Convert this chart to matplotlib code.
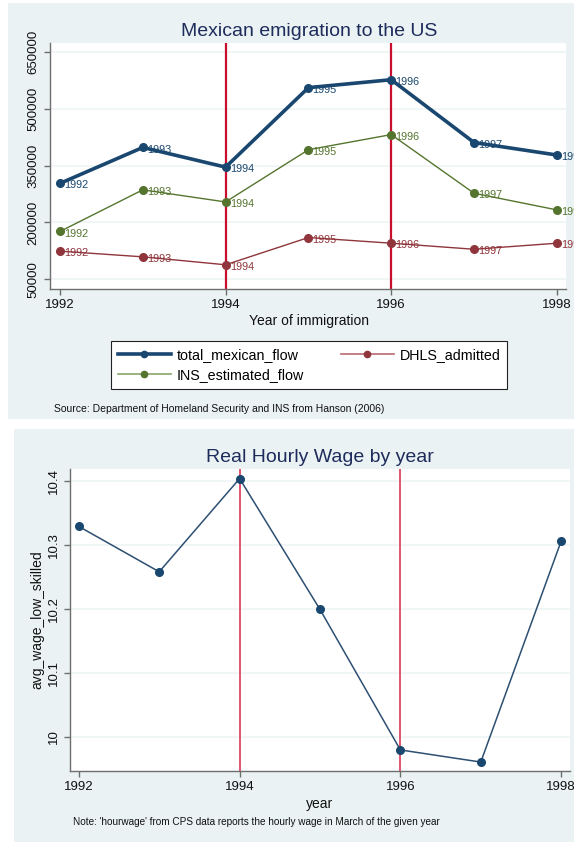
import matplotlib
matplotlib.use("Agg")
import matplotlib.pyplot as plt
from matplotlib.patches import Rectangle
from matplotlib.lines import Line2D

plt.rcParams["font.family"] = ["Liberation Sans", "DejaVu Sans"]

# ── Data ──────────────────────────────────────────────────────────────────────
years = [1992, 1993, 1994, 1995, 1996, 1997, 1998]
total_mexican_flow = [303000, 398000, 346000, 556000, 577000, 411000, 378000]
ins_estimated_flow = [176000, 286000, 254000, 392000, 432000, 277000, 233000]
dhls_admitted = [124000, 109000, 88000, 160000, 145000, 129000, 145000]

wage_years = [1992, 1993, 1994, 1995, 1996, 1997, 1998]
avg_wage_low_skilled = [10.329, 10.258, 10.404, 10.199, 9.979, 9.960, 10.306]

policy_years = [1994, 1996]
flow_ticks = [50000, 200000, 350000, 500000, 650000]
wage_ticks = [10.0, 10.1, 10.2, 10.3, 10.4]
year_ticks = [1992, 1994, 1996, 1998]

# ── Colours ───────────────────────────────────────────────────────────────────
C_NAVY = "#1a476f"
C_GREEN = "#55752f"
C_MAROON = "#90353b"
C_BG = "#eaf2f3"
C_GRID = "#edf3f4"
C_RED = "#c8102e"
C_RED2 = "#dc4867"
C_TITLE = "#1e2c5c"
C_AXIS = "#6e6e6e"

W, H = 574, 842
fig = plt.figure(figsize=(W / 100, H / 100), dpi=100)
fig.patch.set_facecolor("white")


def fx(x):
    return x / W


def fy(y):
    return 1 - y / H


def rect(x0, y0, x1, y1):
    return [fx(x0), fy(y1), (x1 - x0) / W, (y1 - y0) / H]


# graph region backgrounds
fig.patches.append(Rectangle((fx(8), fy(419)), (W - 8) / W, (419 - 3) / H,
                             transform=fig.transFigure, facecolor=C_BG,
                             edgecolor="none", zorder=0))
fig.patches.append(Rectangle((fx(14), fy(H)), (W - 14) / W, (H - 429) / H,
                             transform=fig.transFigure, facecolor=C_BG,
                             edgecolor="none", zorder=0))


def style_axes(ax):
    ax.set_zorder(2)
    for s in ("top", "right"):
        ax.spines[s].set_visible(False)
    for s in ("left", "bottom"):
        ax.spines[s].set_color(C_AXIS)
        ax.spines[s].set_linewidth(1.0)
    ax.tick_params(axis="both", direction="out", length=4, width=1.0,
                   color=C_AXIS, labelsize=9.5, labelcolor="#111111")
    ax.yaxis.grid(True, color=C_GRID, linewidth=1.2)
    ax.set_axisbelow(True)
    ax.set_facecolor("white")
    for lab in ax.get_yticklabels():
        lab.set_rotation(90)
        lab.set_va("center")


# ── Top panel: emigration flows ───────────────────────────────────────────────
ax1 = fig.add_axes(rect(50, 43, 566, 289))
ax1.set_xlim(1991.88, 1998.11)
ax1.set_ylim(24000, 674000)
ax1.set_xticks(year_ticks)
ax1.set_yticks(flow_ticks)
ax1.set_yticklabels([str(v) for v in flow_ticks])
style_axes(ax1)

for yr in policy_years:
    ax1.axvline(yr, color=C_RED, linewidth=1.6, zorder=1)

series = [
    (total_mexican_flow, C_NAVY, 2.6, "total_mexican_flow"),
    (ins_estimated_flow, C_GREEN, 1.0, "INS_estimated_flow"),
    (dhls_admitted, C_MAROON, 1.0, "DHLS_admitted"),
]
for vals, col, lw, name in series:
    ax1.plot(years, vals, color=col, linewidth=lw, marker="o",
             markersize=5.5, zorder=3)
    for yr, v in zip(years, vals):
        ax1.annotate(str(yr), (yr, v), xytext=(3, -1.5),
                     textcoords="offset points", ha="left", va="center",
                     fontsize=7.8, color=col, annotation_clip=False,
                     zorder=4)

fig.text(fx(309), fy(31), "Mexican emigration to the US", ha="center",
         va="center", fontsize=14, color=C_TITLE)
fig.text(fx(309), fy(321), "Year of immigration", ha="center",
         va="center", fontsize=10, color="#111111")

handles = [
    Line2D([], [], color=C_NAVY, lw=2.6, marker="o", markersize=4.5),
    Line2D([], [], color="#8aa66a", lw=1.2, marker="o", markersize=4.5,
           markerfacecolor=C_GREEN, markeredgecolor=C_GREEN),
    Line2D([], [], color="#b86a70", lw=1.2, marker="o", markersize=4.5,
           markerfacecolor=C_MAROON, markeredgecolor=C_MAROON),
]
leg = fig.legend(handles, ["total_mexican_flow", "INS_estimated_flow",
                           "DHLS_admitted"],
                 loc="center", bbox_to_anchor=(fx(309), fy(365)), ncol=2,
                 fontsize=10.3, frameon=True, fancybox=False,
                 handlelength=3.7, handletextpad=0.4, columnspacing=2.6,
                 labelspacing=0.45, borderpad=0.5)
leg.get_frame().set_edgecolor("#222222")
leg.get_frame().set_linewidth(0.8)
leg.get_frame().set_facecolor("white")
leg.get_frame().set_alpha(1.0)

fig.text(fx(54), fy(409),
         "Source: Department of Homeland Security and INS from Hanson (2006)",
         ha="left", va="center", fontsize=7.5, color="#111111")

# ── Bottom panel: real hourly wage ────────────────────────────────────────────
ax2 = fig.add_axes(rect(70, 469, 570, 771))
ax2.set_xlim(1991.89, 1998.11)
ax2.set_ylim(9.946, 10.419)
ax2.set_xticks(year_ticks)
ax2.set_yticks(wage_ticks)
ax2.set_yticklabels(["10", "10.1", "10.2", "10.3", "10.4"])
style_axes(ax2)

for yr in policy_years:
    ax2.axvline(yr, color=C_RED2, linewidth=1.3, zorder=1)

ax2.plot(wage_years, avg_wage_low_skilled, color="#2d4f72", linewidth=1.1,
         marker="o", markersize=5.5, markerfacecolor=C_NAVY,
         markeredgecolor=C_NAVY, zorder=3)

fig.text(fx(320), fy(457), "Real Hourly Wage by year", ha="center",
         va="center", fontsize=14, color=C_TITLE)
fig.text(fx(37), fy(620), "avg_wage_low_skilled", ha="center", va="center",
         rotation=90, fontsize=10, color="#111111")
fig.text(fx(320), fy(804), "year", ha="center", va="center", fontsize=10,
         color="#111111")
fig.text(fx(73), fy(822),
         "Note: 'hourwage' from CPS data reports the hourly wage in March "
         "of the given year",
         ha="left", va="center", fontsize=7.2, color="#111111")

fig.savefig("out.png", dpi=100, facecolor="white")
